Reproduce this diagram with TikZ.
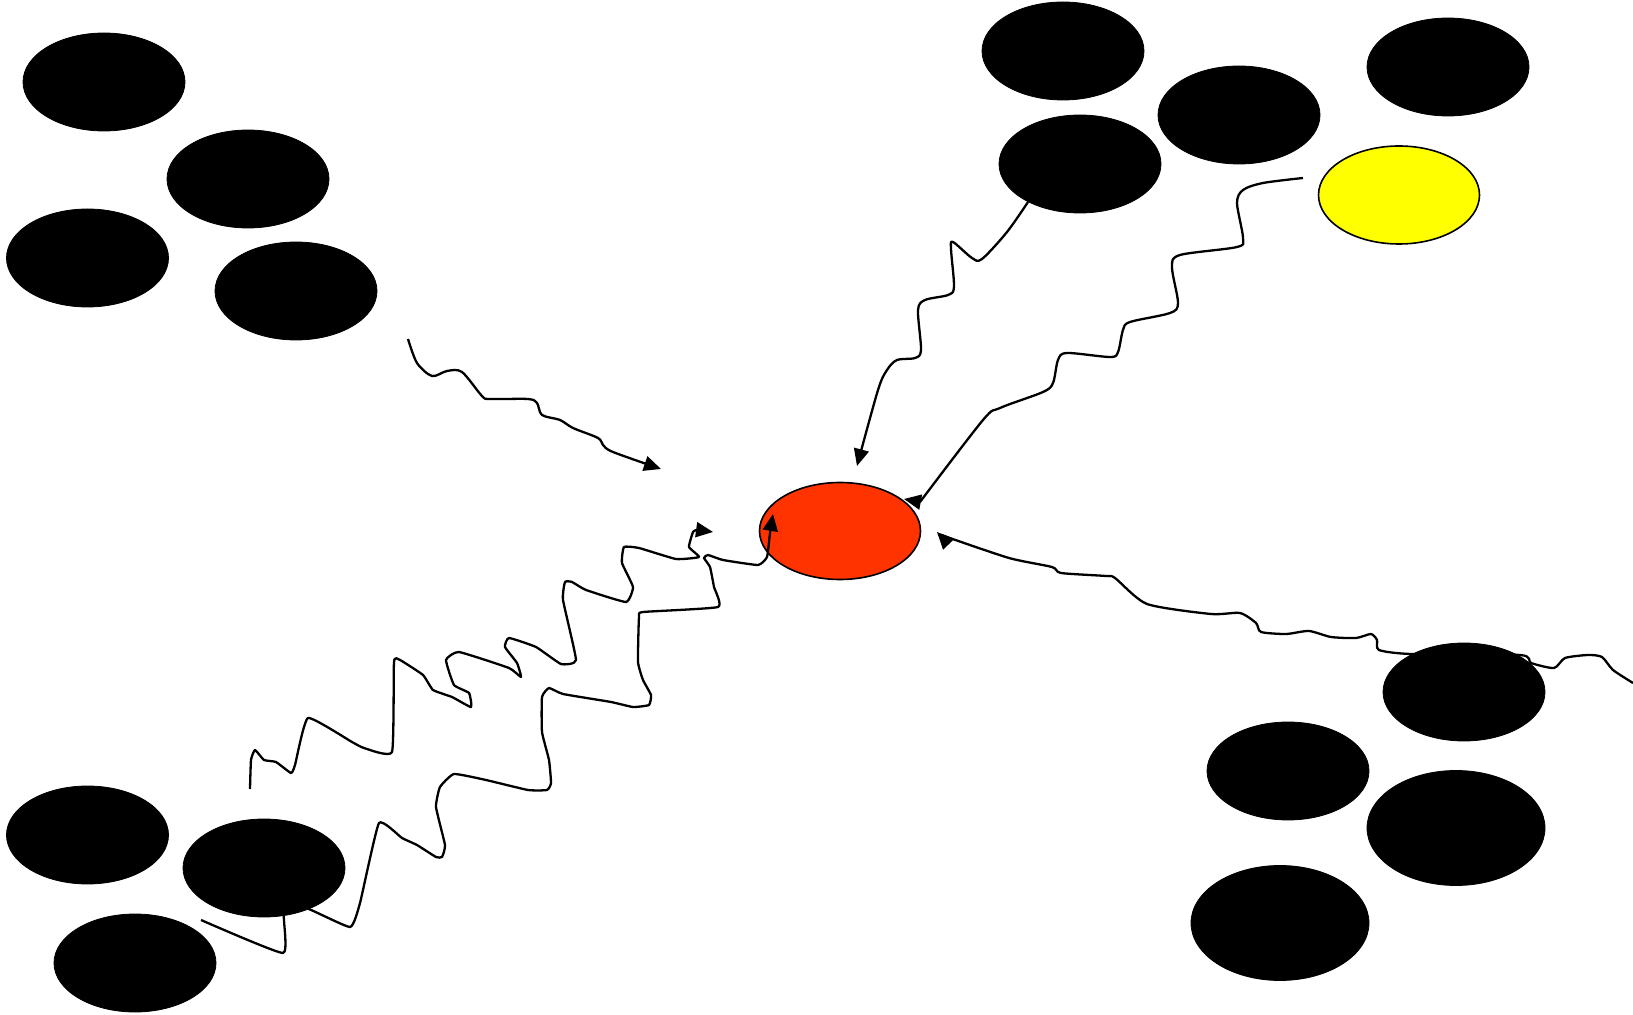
\documentclass[tikz,border=0pt]{standalone}
\usetikzlibrary{shapes.geometric,arrows.meta}
\definecolor{hotred}{RGB}{255,51,0}
\definecolor{sunny}{RGB}{255,255,0}
\tikzset{
  blob/.style={ellipse, fill=black, draw=black, inner sep=0pt, minimum width=81pt, minimum height=49pt},
  bigblob/.style={blob, minimum width=89pt, minimum height=57.5pt},
  core/.style={ellipse, draw=black, line width=0.8pt, inner sep=0pt, minimum width=80.5pt, minimum height=48.5pt},
  wave/.style={line width=1.15pt, line join=round, -{Triangle[length=8.5pt,width=7.5pt]}}
}
\begin{document}
\begin{tikzpicture}[x=0.5pt,y=-0.5pt]
\useasboundingbox (0,0) rectangle (1633,1015);
% centre node
\node[core, fill=hotred] (red) at (840,531) {};
\node[core, fill=sunny, minimum height=49pt] (yellow) at (1399,195) {};
% free ends
\coordinate (s1) at (408,339);  \coordinate (e1) at (661,469);
\coordinate (s2) at (1028,202); \coordinate (e2) at (857,466);
\coordinate (s3) at (1303,178); \coordinate (e3) at (904,499);
\coordinate (s4) at (1633,683); \coordinate (e4) at (937,532);
\coordinate (s5) at (250,789);  \coordinate (e5) at (713,532);
\coordinate (s6) at (201,920);  \coordinate (e6) at (773,514);
% connectors
\draw[wave] plot[smooth, tension=0.5] coordinates {(s1) (417,363) (432,376) (447,371) (462,372) (482,396) (490,399) (528,399) (537,403) (542,415) (560,420) (573,428) (598,438) (603,445) (613,452) (e1)};
\draw[wave] plot[smooth, tension=0.5] coordinates {(s2) (1007,232) (982,259) (972,258) (953,242) (951,249) (954,287) (948,295) (925,300) (918,310) (921,350) (915,358) (897,360) (887,370) (878,390) (e2)};
\draw[wave] plot[smooth, tension=0.5] coordinates {(s3) (1263,183) (1243,190) (1237,203) (1243,238) (1237,247) (1180,255) (1172,267) (1178,303) (1170,313) (1130,322) (1123,330) (1118,352) (1110,357) (1067,353) (1058,360) (1053,383) (1043,392) (1000,408) (983,420) (920,502)} -- (e3);
\draw[wave] plot[smooth, tension=0.4] coordinates {(s4) (1613,670) (1602,657) (1588,655) (1565,658) (1554,668) (1531,663) (1520,655) (1411,654) (1379,650) (1377,640) (1371,634) (1356,638) (1331,637) (1309,631) (1286,634) (1261,632) (1256,623) (1240,613) (1211,614) (1147,604) (1115,578) (1106,576) (1061,573) (1052,567) (1009,558) (947,537) (e4)};
\draw[wave] plot[smooth, tension=0.25] coordinates {(s5) (251,760) (255,750) (264,760) (276,762) (291,773) (295,765) (308,718) (352,742) (364,748) (392,752) (394,662) (400,660) (423,675) (433,690) (452,697) (471,707) (469,693) (454,685) (446,660) (459,652) (509,668) (521,677) (517,663) (505,647) (509,638) (536,647) (561,664) (576,660) (563,600) (565,582) (572,582) (586,590) (626,602) (633,587) (622,563) (624,547) (639,548) (676,559) (699,557) (689,547) (693,532) (697,530) (e5)};
\draw[wave] plot[smooth, tension=0.25] coordinates {(s6) (283,953) (284,913) (306,908) (350,927) (360,903) (379,823) (402,838) (417,845) (436,857) (442,857) (445,845) (436,807) (440,787) (454,774) (486,780) (528,790) (547,790) (551,783) (549,760) (542,732) (542,697) (549,688) (563,694) (611,702) (633,707) (649,705) (651,695) (643,680) (638,662) (639,617) (643,612) (718,607) (714,587) (710,567) (704,558) (708,555) (723,560) (758,565) (767,557) (770,533) (e6)};
% black ellipses
\node[blob] (a1) at (104,82) {};
\node[blob] (a2) at (248,179) {};
\node[blob] (a3) at (87.5,258) {};
\node[blob] (a4) at (296,291) {};
\node[blob] (b1) at (1063,51) {};
\node[blob] (b2) at (1239,115) {};
\node[blob] (b3) at (1448,67) {};
\node[blob] (b4) at (1080,164) {};
\node[blob] (c1) at (1464,692) {};
\node[blob] (c2) at (1288,771) {};
\node[bigblob] (c3) at (1456,828) {};
\node[bigblob] (c4) at (1280,923) {};
\node[blob] (d1) at (87.5,835) {};
\node[blob] (d2) at (264,868) {};
\node[blob] (d3) at (135,963) {};
\end{tikzpicture}
\end{document}
